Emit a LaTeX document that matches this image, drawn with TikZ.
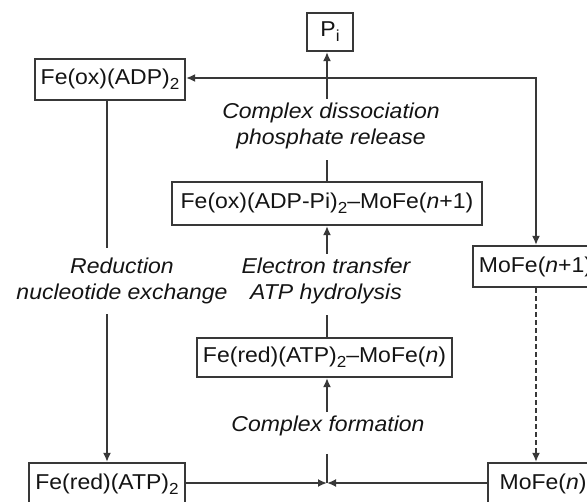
\documentclass[tikz,border=0pt]{standalone}
\usepackage{fontspec}
\setmainfont{Liberation Sans}[FakeStretch=1.07]
\usetikzlibrary{arrows.meta}
\newcommand{\ssub}[1]{\raisebox{-0.45ex}{\fontsize{16}{16}\selectfont #1}}

\begin{document}
\begin{tikzpicture}[x=1pt,y=-1pt,line width=1.9pt,draw=black!78,
  >={Latex[length=9pt,width=8pt]},
  every node/.style={font=\fontsize{21.5}{26.5}\selectfont,text=black!92},
  box/.style={draw=black!78,line width=2.1pt,fill=white,minimum height=41pt,inner xsep=4pt},
  lab/.style={font=\fontsize{21.5}{26.5}\selectfont\itshape,align=center,inner xsep=2pt,inner ysep=3pt}]
\useasboundingbox (0,0) rectangle (587,502);

\node [box,minimum width=46pt,minimum height=38pt] (pi) at (330,32) {P\ssub{i}};
\node [box,minimum width=150pt] (feox) at (110,79.5) {Fe(ox)(ADP)\ssub{2}};
\node [box,minimum width=310pt,minimum height=43pt] (cplxox) at (327,203.5) {Fe(ox)(ADP-Pi)\ssub{2}--MoFe(\textit{n}+1)};
\node [box,minimum width=125pt,anchor=west] (mofeup) at (472,266.5) {MoFe(\textit{n}+1)};
\node [box,minimum width=255pt,minimum height=39pt] (cplxred) at (324.5,357.5) {Fe(red)(ATP)\ssub{2}--MoFe(\textit{n})};
\node [box,minimum width=156pt,minimum height=42pt] (fered) at (107,484) {Fe(red)(ATP)\ssub{2}};
\node [box,minimum width=110pt,minimum height=42pt,anchor=west] (mofe) at (487,484) {MoFe(\textit{n})};

\node [lab] (dissoc) at (331,126) {Complex dissociation\\phosphate release};
\node [lab] (eltrans) at (326,281) {Electron transfer\\ATP hydrolysis};
\node [lab] (cform) at (328,426) {Complex formation};
\node [lab,inner ysep=9pt] (redlab) at (122,281) {Reduction\\nucleotide exchange};

\coordinate (corner) at (536,78); \coordinate (join) at (327,483);

% top: release of Fe protein, MoFe and Pi
\draw [<->] (feox.east |- corner) -- (corner) -- (mofeup.north -| corner);
\draw [->] (dissoc.north -| cplxox.north) -- (pi.south -| cplxox.north);
\draw [shorten >=7pt] (cplxox.north) -- (dissoc.south -| cplxox.north);

% middle: electron transfer
\draw [->] (eltrans.north -| cplxox.south) -- (cplxox.south);
\draw [shorten >=7pt] (cplxred.north -| cplxox.south) -- (eltrans.south -| cplxox.south);

% left: reduction of Fe protein
\draw (feox.south -| fered.north) -- (redlab.north -| fered.north);
\draw [->] (redlab.south -| fered.north) -- (fered.north);

% right: MoFe protein
\draw [->,dash pattern=on 5pt off 3pt] (mofeup.south -| corner) -- (mofe.north -| corner);

% bottom: complex formation
\draw [->] (cform.north -| join) -- (cplxred.south -| join);
\draw [shorten <=14pt] (cform.south -| join) -- (join);
\draw [->] (fered.east |- join) -- (join); \draw [->] (mofe.west |- join) -- (join);

\end{tikzpicture}
\end{document}
